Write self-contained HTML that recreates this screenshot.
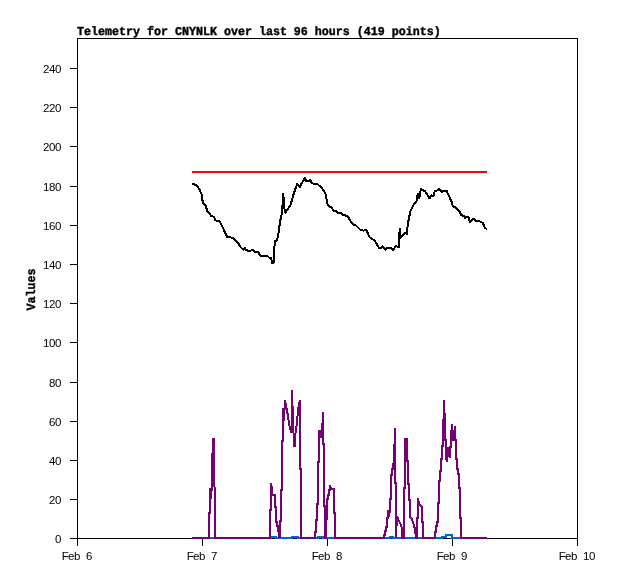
<!DOCTYPE html>
<html><head><meta charset="utf-8"><title>Telemetry for CNYNLK</title>
<style>
html,body{margin:0;padding:0;background:#fff;}
body{width:618px;height:579px;overflow:hidden;}
svg{display:block;}
.t{font-family:"Liberation Sans",sans-serif;font-size:11.5px;fill:#000;text-anchor:middle;}
.b{font-family:"Liberation Mono",monospace;font-weight:bold;font-size:12.1px;text-rendering:geometricPrecision;fill:#000;stroke:#000;stroke-width:0.4px;}
</style></head><body>
<svg width="618" height="579" viewBox="0 0 618 579">
<rect x="0" y="0" width="618" height="579" fill="#fff"/>

<g shape-rendering="crispEdges" fill="#000">
<rect x="77" y="38" width="501" height="1"/><rect x="77" y="538" width="501" height="1"/><rect x="77" y="38" width="1" height="501"/><rect x="577" y="38" width="1" height="501"/>
<rect x="70" y="538" width="7" height="1"/>
<rect x="70" y="499" width="7" height="1"/>
<rect x="70" y="460" width="7" height="1"/>
<rect x="70" y="421" width="7" height="1"/>
<rect x="70" y="382" width="7" height="1"/>
<rect x="70" y="342" width="7" height="1"/>
<rect x="70" y="303" width="7" height="1"/>
<rect x="70" y="264" width="7" height="1"/>
<rect x="70" y="225" width="7" height="1"/>
<rect x="70" y="186" width="7" height="1"/>
<rect x="70" y="146" width="7" height="1"/>
<rect x="70" y="107" width="7" height="1"/>
<rect x="70" y="68" width="7" height="1"/>
<rect x="77" y="539" width="1" height="7"/>
<rect x="202" y="539" width="1" height="7"/>
<rect x="327" y="539" width="1" height="7"/>
<rect x="452" y="539" width="1" height="7"/>
<rect x="577" y="539" width="1" height="7"/>
</g>
<text class="t" x="58.2" y="543">0</text>
<text class="t" x="52.2 58.2" y="504">20</text>
<text class="t" x="52.2 58.2" y="465">40</text>
<text class="t" x="52.2 58.2" y="426">60</text>
<text class="t" x="52.2 58.2" y="387">80</text>
<text class="t" x="46.2 52.2 58.2" y="347">100</text>
<text class="t" x="46.2 52.2 58.2" y="308">120</text>
<text class="t" x="46.2 52.2 58.2" y="269">140</text>
<text class="t" x="46.2 52.2 58.2" y="230">160</text>
<text class="t" x="46.2 52.2 58.2" y="191">180</text>
<text class="t" x="46.2 52.2 58.2" y="151">200</text>
<text class="t" x="46.2 52.2 58.2" y="112">220</text>
<text class="t" x="46.2 52.2 58.2" y="73">240</text>
<text class="t" x="65.2 71.2 77.2 83.2 89.2" y="560">Feb 6</text>
<text class="t" x="190.2 196.2 202.2 208.2 214.2" y="560">Feb 7</text>
<text class="t" x="315.2 321.2 327.2 333.2 339.2" y="560">Feb 8</text>
<text class="t" x="440.2 446.2 452.2 458.2 464.2" y="560">Feb 9</text>
<text class="t" x="562.2 568.2 574.2 580.2 586.2 592.2" y="560">Feb 10</text>
<text class="b" transform="translate(77,35) scale(0.96395,1)" x="0" y="0">Telemetry for CNYNLK over last 96 hours (419 points)</text>
<text class="b" transform="translate(35.4,310.5) rotate(-90) scale(0.96395,1.03)" x="0" y="0">Values</text>
<g fill="none" stroke-width="2" stroke-linejoin="miter" stroke-miterlimit="1.5" shape-rendering="crispEdges">
<polyline stroke="#f00" points="192,172 487,172"/>
<polyline stroke="#000" points="192.3,183.7 197.1,185.6 200.0,190.4 201.8,195.0 202.8,202.7 205.6,205.6 207.5,211.3 211.3,216.0 214.2,217.0 215.1,220.4 219.0,220.8 220.8,223.6 224.6,231.5 227.1,236.8 232.8,237.8 238.5,243.5 240.5,247.1 243.5,250.0 244.8,247.8 246.2,250.0 249.4,251.3 252.5,249.7 254.5,251.6 258.2,251.8 260.2,255.6 267.0,255.6 269.0,257.5 271.1,258.2 272.2,263.7 273.7,262.0 274.2,250.2 275.0,240.5 276.0,242.0 277.9,237.3 278.9,230.5 279.9,222.3 281.5,215.1 282.6,203.7 283.1,192.7 284.1,203.7 284.9,213.2 287.3,209.8 290.4,205.6 293.3,195.1 297.3,183.5 298.5,185.5 300.0,187.6 301.1,184.0 303.2,180.9 305.0,177.5 306.3,180.9 308.9,181.4 310.4,179.8 311.5,182.4 313.0,183.5 317.2,183.7 321.8,188.1 325.4,193.3 327.0,201.0 327.6,204.5 329.7,206.6 331.7,207.7 333.3,210.4 336.4,211.4 338.0,213.0 341.1,213.0 342.6,215.0 345.7,215.5 348.3,217.1 349.9,220.2 353.0,224.4 356.1,225.6 360.8,230.2 364.0,230.6 366.2,229.8 367.0,231.5 368.0,233.7 369.6,237.3 374.7,240.6 378.9,247.7 381.5,247.9 382.5,246.1 385.7,249.5 387.5,247.8 391.1,248.4 393.2,249.8 396.0,245.8 398.7,247.8 399.0,238.0 399.8,228.3 400.2,238.0 403.5,234.6 405.6,232.8 407.0,234.6 407.7,224.9 409.1,217.3 410.5,211.1 413.2,205.6 416.7,200.7 417.8,193.1 419.2,198.8 420.8,189.0 425.0,191.2 429.8,198.8 431.2,195.2 433.3,196.6 434.8,190.9 437.3,190.4 439.1,188.8 441.9,192.6 443.5,190.9 446.6,190.9 449.2,196.6 451.8,202.3 453.0,206.4 455.9,207.5 459.5,211.1 461.1,214.7 464.2,216.3 465.0,219.0 465.8,216.8 468.5,216.8 469.9,222.6 472.5,218.9 474.6,219.2 475.6,220.6 479.2,220.9 482.8,223.0 484.9,227.7 486.3,228.8 487.0,229.2"/>
<polyline stroke="#0066cc" points="192.0,538.0 271.0,538.0 271.0,537.0 276.0,537.0 276.0,538.0 292.0,538.0 292.0,537.0 298.0,537.0 298.0,538.0 318.0,538.0 318.0,537.0 323.0,537.0 323.0,538.0 390.0,538.0 390.0,537.0 393.0,537.0 393.0,538.0 442.0,538.0 442.0,537.0 446.0,537.0 446.0,535.0 452.0,535.0 452.0,538.0 487.0,538.0"/>
<polyline stroke="#760076" points="192.0,538.0 209.0,538.0 209.0,513.0 210.0,513.0 210.0,488.0 211.0,499.0 212.0,484.0 212.0,454.0 213.0,454.0 213.0,439.0 214.0,439.0 214.0,485.0 215.0,489.0 215.0,538.0 270.0,538.0 270.0,510.0 271.0,510.0 271.0,483.0 272.0,489.0 272.0,495.0 275.0,495.0 275.0,507.0 276.0,507.0 276.0,522.0 277.0,522.0 277.0,526.0 278.0,526.0 278.0,531.0 279.0,531.0 279.0,537.0 280.0,537.0 280.0,521.0 281.0,521.0 281.0,490.0 282.0,490.0 282.0,441.0 283.0,441.0 283.0,408.0 284.0,421.0 285.0,400.0 286.0,405.0 287.0,411.0 288.0,416.0 289.0,424.0 290.0,428.0 291.0,432.0 292.0,432.0 292.0,390.0 293.0,420.0 294.0,446.0 295.0,446.0 295.0,436.0 296.0,430.0 297.0,422.0 298.0,411.0 299.0,404.0 300.0,400.0 300.0,469.0 301.0,469.0 301.0,538.0 315.0,538.0 315.0,532.0 316.0,532.0 316.0,520.0 317.0,520.0 317.0,504.0 318.0,504.0 318.0,462.0 319.0,462.0 319.0,431.0 321.0,431.0 321.0,437.0 322.0,437.0 322.0,424.0 323.0,424.0 323.0,412.0 323.0,444.0 324.0,444.0 324.0,506.0 325.0,506.0 325.0,538.0 326.0,538.0 326.0,519.0 327.0,519.0 327.0,499.0 328.0,499.0 328.0,495.0 329.0,495.0 329.0,490.0 330.0,490.0 330.0,485.0 331.0,489.0 334.0,489.0 334.0,513.0 335.0,513.0 335.0,538.0 384.0,538.0 384.0,535.0 385.0,535.0 385.0,531.0 386.0,531.0 386.0,527.0 387.0,527.0 387.0,518.0 388.0,518.0 388.0,510.0 389.0,517.0 390.0,510.0 390.0,499.0 391.0,499.0 391.0,475.0 392.0,475.0 392.0,469.0 393.0,469.0 393.0,464.0 394.0,464.0 394.0,445.0 395.0,445.0 395.0,428.0 395.0,483.0 396.0,483.0 396.0,538.0 397.0,516.0 398.0,519.0 399.0,521.0 400.0,523.0 401.0,525.0 402.0,529.0 402.0,538.0 404.0,538.0 404.0,488.0 405.0,488.0 405.0,439.0 407.0,439.0 407.0,461.0 408.0,461.0 408.0,484.0 409.0,484.0 409.0,500.0 410.0,500.0 410.0,517.0 412.0,519.0 413.0,523.0 414.0,525.0 415.0,530.0 416.0,538.0 417.0,538.0 417.0,518.0 418.0,518.0 418.0,498.0 419.0,503.0 420.0,505.0 421.0,506.0 422.0,507.0 422.0,522.0 423.0,522.0 423.0,538.0 435.0,538.0 435.0,532.0 436.0,532.0 436.0,526.0 437.0,526.0 437.0,522.0 438.0,522.0 438.0,503.0 439.0,503.0 439.0,481.0 440.0,481.0 440.0,471.0 441.0,471.0 441.0,459.0 442.0,459.0 442.0,446.0 443.0,446.0 443.0,420.0 444.0,420.0 444.0,400.0 444.0,414.0 445.0,414.0 445.0,440.0 446.0,440.0 446.0,457.0 447.0,462.0 447.0,447.0 448.0,455.0 449.0,447.0 449.0,455.0 450.0,458.0 450.0,447.0 451.0,447.0 451.0,431.0 452.0,431.0 452.0,424.0 452.0,440.0 453.0,440.0 453.0,430.0 454.0,438.0 455.0,426.0 455.0,440.0 456.0,440.0 456.0,459.0 457.0,459.0 457.0,469.0 458.0,469.0 458.0,474.0 459.0,474.0 459.0,488.0 460.0,488.0 460.0,518.0 461.0,518.0 461.0,538.0 487.0,538.0"/>
</g>
</svg></body></html>
